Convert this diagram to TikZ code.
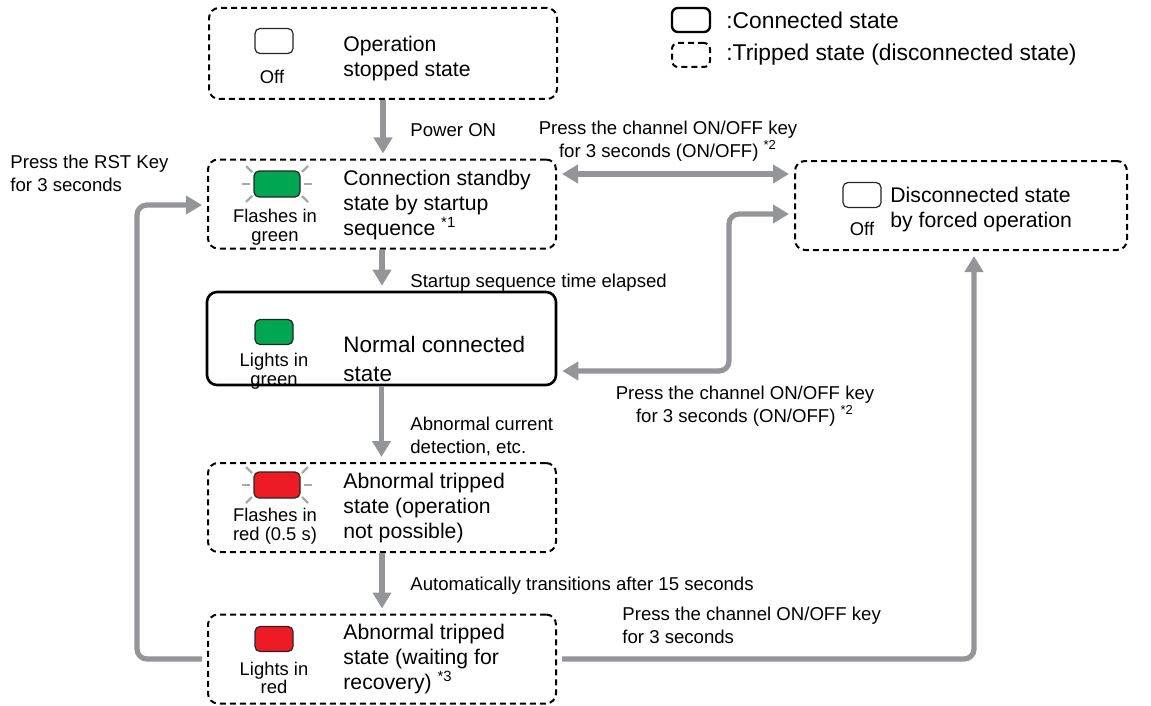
\documentclass[tikz,border=0pt]{standalone}
\usepackage{fontspec}
\setmainfont{Liberation Sans}
\usetikzlibrary{arrows.meta,positioning,calc}
\definecolor{arw}{HTML}{939598}
\definecolor{ledgrn}{HTML}{00A651}
\definecolor{ledred}{HTML}{ED1C24}
\definecolor{raygray}{HTML}{A7A9AC}

\begin{document}
\begin{tikzpicture}[x=0.5pt,y=-0.5pt,>={Triangle[length=8pt,width=9pt]},
  trip/.style={draw,line width=1pt,dash pattern=on 3pt off 2pt,rounded corners=5pt,
    minimum width=174pt,minimum height=44.5pt,inner sep=0},
  conn/.style={draw,line width=1.3pt,rounded corners=5pt,
    minimum width=174.5pt,minimum height=46.5pt,inner sep=0},
  led/.style={draw=black!85,line width=0.6pt,rounded corners=2.5pt,
    minimum width=19pt,minimum height=12.5pt,inner sep=0},
  fled/.style={led,minimum width=23pt,minimum height=13pt},
  ledcap/.style={font=\fontsize{9.2}{9.3}\selectfont,align=center,inner sep=0},
  txt/.style={font=\fontsize{10.6}{12.5}\selectfont,align=left,anchor=west,inner sep=0},
  lbl/.style={font=\fontsize{9.3}{11.5}\selectfont,align=left,anchor=west,inner sep=0},
  key/.style={draw,line width=1.2pt,rounded corners=3pt,minimum width=19pt,minimum height=12pt,inner sep=0},
  flow/.style={draw=arw,line width=2.6pt,rounded corners=5pt,->,shorten <=2.5pt,shorten >=2.5pt},
  rays/.style={draw=raygray,line width=1.1pt}]
\useasboundingbox (0,0) rectangle (1151,706);

% legend
\node[key] (kc) at (691,20) {};
\node[key,line width=1pt,dash pattern=on 3pt off 2pt] (kt) at (691,55) {};
\node[txt,font=\fontsize{11.4}{13}\selectfont] (kct) at (726,20) {:Connected state};
\node[txt,font=\fontsize{11.4}{13}\selectfont] (ktt) at (726,55) {:Tripped state (disconnected state)};

% states
\node[trip,minimum height=45.5pt] (stop) at (383,53.5) {};
\node[led,fill=white] (led1) at (274,41) {};
\node[ledcap] (cap1) at (272,77) {Off};
\node[txt] (t1) at (343,59) {Operation\\stopped state};

\node[trip] (stand) at (382,204) {};
\node[fled,fill=ledgrn] (led2) at (277,184) {};
\node[ledcap] (cap2) at (275,227) {Flashes in\\green};
\node[txt] (t2) at (343,205) {Connection standby\\state by startup\\sequence \textsuperscript{*1}};

\node[conn] (norm) at (381.5,338.5) {};
\node[led,fill=ledgrn] (led3) at (274,332) {};
\node[ledcap] (cap3) at (274,371) {Lights in\\green};
\node[txt,font=\fontsize{11.2}{14.5}\selectfont] (t3) at (343,359) {Normal connected\\state};

\node[trip] (trip) at (382,507.5) {};
\node[fled,fill=ledred] (led4) at (277,485) {};
\node[ledcap] (cap4) at (275,526) {Flashes in\\red (0.5 s)};
\node[txt] (t4) at (343,508) {Abnormal tripped\\state (operation\\not possible)};

\node[trip] (recov) at (382,659) {};
\node[led,fill=ledred] (led5) at (274,639) {};
\node[ledcap] (cap5) at (274,678) {Lights in\\red};
\node[txt] (t5) at (343,659) {Abnormal tripped\\state (waiting for\\recovery) \textsuperscript{*3}};

\node[trip,minimum width=166pt] (forced) at (961,205.5) {};
\node[led,fill=white] (led6) at (862,195) {};
\node[ledcap] (cap6) at (862,229) {Off};
\node[txt] (t6) at (890,210) {Disconnected state\\by forced operation};

% flashing rays
\foreach \l in {led2,led4} \foreach \s in {-1,1} {
  \draw[rays] ($(\l)+(\s*27,0)$) -- ($(\l)+(\s*35,0)$);
  \draw[rays] ($(\l)+(\s*25,-12)$) -- ($(\l)+(\s*31,-18)$);
  \draw[rays] ($(\l)+(\s*25,12)$) -- ($(\l)+(\s*31,18)$);
}

% corners of the connectors
\coordinate (bf) at (700,174);
\coordinate (cf1) at (729,371);
\coordinate (cf2) at (729,214);
\coordinate (ef) at (974,659);
\coordinate (eb1) at (137,659);
\coordinate (eb2) at (137,205);

% transitions
\draw[flow,shorten <=0pt] (stop.south) -- (stop.south |- stand.north);
\draw[flow,shorten <=0pt] (stand.south) -- (stand.south |- norm.north);
\draw[flow,shorten <=0pt] (norm.south) -- (norm.south |- trip.north);
\draw[flow,shorten <=0pt] (trip.south) -- (trip.south |- recov.north);
\draw[flow,<->] (stand.east |- bf) -- (forced.west |- bf);
\draw[flow,<->] (norm.east |- cf1) -- (cf1) -- (cf2) -- (forced.west |- cf2);
\draw[flow] (recov.east) -- (ef) -- (ef |- forced.south);
\draw[flow] (recov.west) -- (eb1) -- (eb2) -- (stand.west |- eb2);

% labels
\node[lbl] (l1) at (410,130) {Power ON};
\node[lbl,anchor=center,align=center] (l2) at (668,141) {Press the channel ON/OFF key\\for 3 seconds (ON/OFF) \textsuperscript{*2}};
\node[lbl] (l3) at (410,283) {Startup sequence time elapsed};
\node[lbl,anchor=center,align=center] (l4) at (745,406) {Press the channel ON/OFF key\\for 3 seconds (ON/OFF) \textsuperscript{*2}};
\node[lbl] (l5) at (410,436) {Abnormal current\\detection, etc.};
\node[lbl] (l6) at (410,586) {Automatically transitions after 15 seconds};
\node[lbl] (l7) at (622,625) {Press the channel ON/OFF key\\for 3 seconds};
\node[lbl] (l8) at (10,173) {Press the RST Key\\for 3 seconds};
\end{tikzpicture}
\end{document}
